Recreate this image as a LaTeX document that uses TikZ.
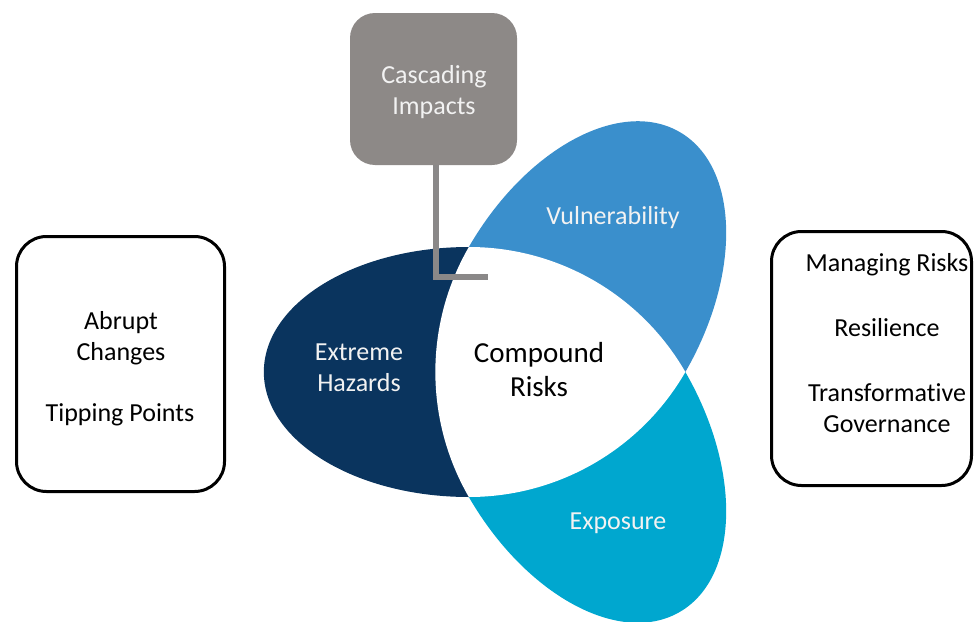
\documentclass[tikz,border=0pt]{standalone}
\usepackage{fontspec}
\setmainfont[Ligatures={NoCommon}]{Carlito}
\definecolor{navy}{HTML}{0A345E}
\definecolor{vulblue}{HTML}{3A8FCC}
\definecolor{expcyan}{HTML}{00A7CF}
\definecolor{boxgray}{HTML}{8D8987}
\definecolor{linegray}{HTML}{8A8888}
\definecolor{paletext}{HTML}{F2F2F2}
\begin{document}
\begin{tikzpicture}[x=1pt,y=1pt,
  lbl/.style={font=\fontsize{26}{31}\selectfont, align=center, inner sep=0pt},
  bigl/.style={font=\fontsize{29}{34}\selectfont, align=center, inner sep=0pt},
  petaltext/.style={lbl, text=paletext},
  sidebox/.style={draw=black, line width=3pt, rounded corners=30pt, fill=white, inner sep=0pt},
  cascbox/.style={fill=boxgray, rounded corners=25pt, inner sep=0pt, minimum width=167pt, minimum height=152pt},
  conn/.style={draw=linegray, line width=6pt}
]
\useasboundingbox (0,0) rectangle (974,-621);

% petals (half ellipses on the sides of an equilateral triangle)
\coordinate (O) at (541,-372);
\begin{scope}[shift={(O)}, rotate=180]
  \fill[navy] (72.17,-125) arc[start angle=-90, end angle=90, x radius=205, y radius=125] -- cycle;
\end{scope}
\begin{scope}[shift={(O)}, rotate=60]
  \fill[vulblue] (72.17,-125) arc[start angle=-90, end angle=90, x radius=205, y radius=125] -- cycle;
\end{scope}
\begin{scope}[shift={(O)}, rotate=-60]
  \fill[expcyan] (72.17,-125) arc[start angle=-90, end angle=90, x radius=205, y radius=125] -- cycle;
\end{scope}

% white Reuleaux centre
\fill[white] (685.34,-372) arc[start angle=-30, end angle=-90, radius=250]
  arc[start angle=210, end angle=150, radius=250]
  arc[start angle=90, end angle=30, radius=250] -- cycle;

% labels in petals
\node[petaltext] (hz) at (359,-368) {Extreme\\Hazards};
\node[petaltext] (vu) at (613,-218) {Vulnerability};
\node[petaltext] (ex) at (618,-523) {Exposure};
\node[bigl] (cr) at (539,-370) {Compound\\Risks};

% cascading impacts box and connector
\node[cascbox] (casc) at (433.5,-89) {};
\node[petaltext] (casct) at (434,-92) {Cascading\\Impacts};
\coordinate (lend) at (488,-277);
\draw[conn] ([xshift=2.5pt]casc.south) |- (lend);

% side boxes
\node[sidebox, minimum width=208pt, minimum height=255pt] (lbox) at (120.5,-364) {};
\node[lbl] (ac) at (121,-338) {Abrupt\\Changes};
\node[lbl] (tp) at (120,-415) {Tipping Points};

\node[sidebox, minimum width=200pt, minimum height=254pt] (rbox) at (871.5,-358.5) {};
\node[lbl] (mr) at (887,-265) {Managing Risks};
\node[lbl] (rs) at (887,-328) {Resilience};
\node[lbl] (tg) at (887,-408) {Transformative\\Governance};
\end{tikzpicture}
\end{document}
